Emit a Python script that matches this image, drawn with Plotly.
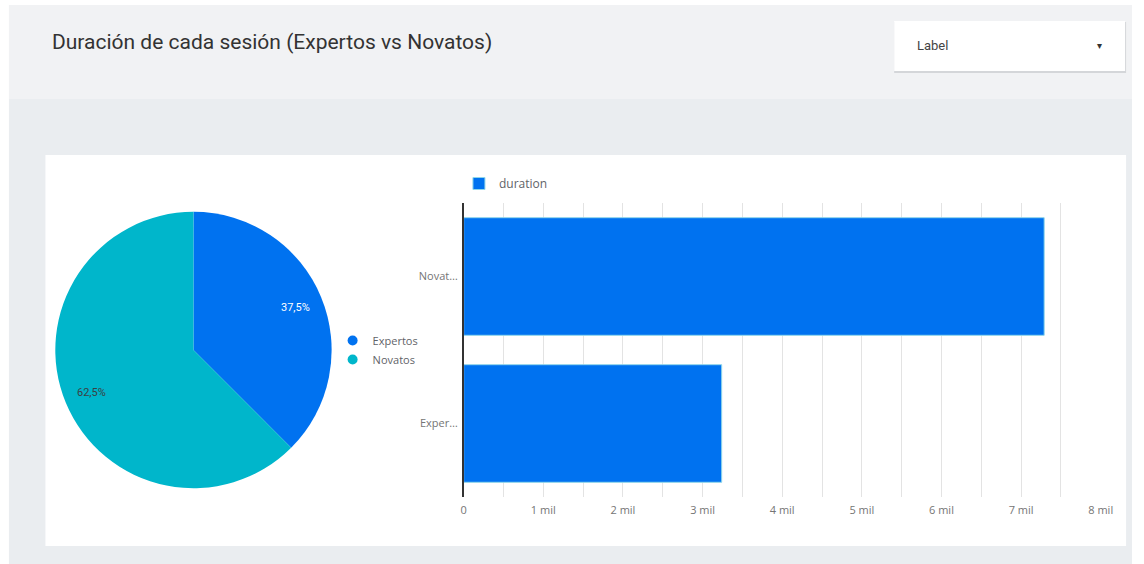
import math
import plotly.graph_objects as go

W, H = 1144, 564

# Data
groups = ["Expertos", "Novatos"]
group_short = ["Exper…", "Novat…"]
session_counts = [3, 5]          # sessions per group (pie)
durations = [3240, 7290]         # total duration per group (bars)
group_colors = ["#0072f0", "#00b6cb"]
pie_text_colors = ["#ffffff", "#3c4043"]
tick_values = [0, 1000, 2000, 3000, 4000, 5000, 6000, 7000, 8000]
tick_labels = ["0", "1 mil", "2 mil", "3 mil", "4 mil", "5 mil", "6 mil", "7 mil", "8 mil"]

# Pie placement (pixels on the canvas)
PIE_CX, PIE_CY, PIE_R = 193, 350, 140


def px(x):
    return x / W


def py(y):
    return 1 - y / H


fig = go.Figure()

# Pie: share of sessions
fig.add_trace(go.Pie(
    labels=groups,
    values=session_counts,
    marker=dict(colors=group_colors, line=dict(width=0)),
    sort=False,
    direction="clockwise",
    rotation=0,
    textinfo="none",
    showlegend=False,
    domain=dict(x=[px(PIE_CX - PIE_R), px(PIE_CX + PIE_R)],
                y=[py(PIE_CY + PIE_R), py(PIE_CY - PIE_R)]),
    hoverinfo="label+percent",
))

# Percentage labels placed at 80% of the radius, mid-angle of each slice
pie_labels = []
total = sum(session_counts)
start = 0.0
for value, color in zip(session_counts, pie_text_colors):
    frac = value / total
    mid = 2 * math.pi * (start + frac / 2)
    lx = PIE_CX + 0.8 * PIE_R * math.sin(mid)
    ly = PIE_CY - 0.8 * PIE_R * math.cos(mid)
    pie_labels.append(dict(
        text=f"{frac * 100:.1f}%".replace(".", ","),
        xref="paper", yref="paper", x=px(lx), y=py(ly),
        xanchor="center", yanchor="middle", showarrow=False,
        font=dict(family="Roboto", size=11, color=color),
    ))
    start += frac

# Circle legend entries for the pie groups
for name, color in zip(groups, group_colors):
    fig.add_trace(go.Scatter(
        x=[None], y=[None], mode="markers", name=name,
        marker=dict(symbol="circle", size=10, color=color),
        legend="legend2", showlegend=True, hoverinfo="skip",
        xaxis="x2", yaxis="y2",
    ))

# Horizontal bars: total duration
fig.add_trace(go.Bar(
    x=durations,
    y=groups,
    orientation="h",
    name="duration",
    marker=dict(color="#0072f0", line=dict(color="#8fd6ea", width=1)),
    legend="legend",
    hovertemplate="%{y}: %{x}<extra></extra>",
))

fig.update_layout(
    width=W, height=H,
    autosize=False,
    margin=dict(l=0, r=0, t=0, b=0, pad=0),
    paper_bgcolor="#ffffff",
    plot_bgcolor="rgba(0,0,0,0)",
    separators=",.",
    font=dict(family="Open Sans", color="#5f6368", size=11),
    bargap=0.2,
    xaxis=dict(
        domain=[px(466.8), px(1112.3)],
        range=[0, 8000],
        tickvals=tick_values,
        ticktext=tick_labels,
        showgrid=True, gridcolor="#e3e3e3", gridwidth=1,
        minor=dict(dtick=500, showgrid=True, gridcolor="#e3e3e3", gridwidth=1),
        zeroline=False, showline=False, ticks="",
        ticklabelstandoff=5,
        tickfont=dict(size=11, color="#757575"),
        fixedrange=True,
    ),
    yaxis=dict(
        domain=[py(497), py(203)],
        type="category",
        categoryorder="array", categoryarray=groups,
        tickvals=groups, ticktext=group_short,
        showline=True, linecolor="#333333", linewidth=1.5,
        showgrid=False, zeroline=False, ticks="",
        ticklabelstandoff=2,
        tickfont=dict(size=11, color="#757575"),
        fixedrange=True,
    ),
    # hidden axes that only host the legend-only circle entries
    xaxis2=dict(domain=[0, 0.01], visible=False, range=[0, 1]),
    yaxis2=dict(domain=[0, 0.01], visible=False, range=[0, 1]),
    legend=dict(
        x=px(462), y=py(169), xanchor="left", yanchor="top",
        orientation="h", bgcolor="rgba(0,0,0,0)",
        font=dict(size=12, color="#5f6368"),
    ),
    legend2=dict(
        x=px(334), y=py(326), xanchor="left", yanchor="top",
        orientation="v", bgcolor="rgba(0,0,0,0)",
        font=dict(size=11, color="#5f6368"),
        itemwidth=30, tracegroupgap=0,
    ),
    shapes=[
        # header band
        dict(type="rect", xref="paper", yref="paper", layer="below",
             x0=px(6), x1=1, y0=py(99), y1=py(5),
             fillcolor="#f1f2f4", line=dict(width=0)),
        # body band
        dict(type="rect", xref="paper", yref="paper", layer="below",
             x0=px(6), x1=1, y0=0, y1=py(99),
             fillcolor="#eaedf0", line=dict(width=0)),
        # chart card
        dict(type="rect", xref="paper", yref="paper", layer="below",
             x0=px(43), x1=px(1138), y0=py(546), y1=py(155),
             fillcolor="#ffffff", line=dict(width=0)),
        # dropdown shadow
        dict(type="rect", xref="paper", yref="paper", layer="below",
             x0=px(903), x1=px(1138), y0=py(73), y1=py(22),
             fillcolor="#d4d6d9", line=dict(width=0)),
        # dropdown box
        dict(type="rect", xref="paper", yref="paper", layer="below",
             x0=px(903), x1=px(1137), y0=py(71), y1=py(21),
             fillcolor="#ffffff", line=dict(width=0)),
    ],
    annotations=[
        dict(text="Duración de cada sesión (Expertos vs Novatos)",
             xref="paper", yref="paper", x=px(48), y=py(42),
             xanchor="left", yanchor="middle", showarrow=False,
             font=dict(family="Roboto", size=21, color="#333333")),
        dict(text="Label", xref="paper", yref="paper", x=px(924), y=py(46),
             xanchor="left", yanchor="middle", showarrow=False,
             font=dict(family="Roboto", size=13, color="#444444")),
        dict(text="▾", xref="paper", yref="paper", x=px(1111), y=py(46),
             xanchor="center", yanchor="middle", showarrow=False,
             font=dict(family="DejaVu Sans", size=10, color="#333333")),
    ] + pie_labels,
)

fig.write_html("out.html")
